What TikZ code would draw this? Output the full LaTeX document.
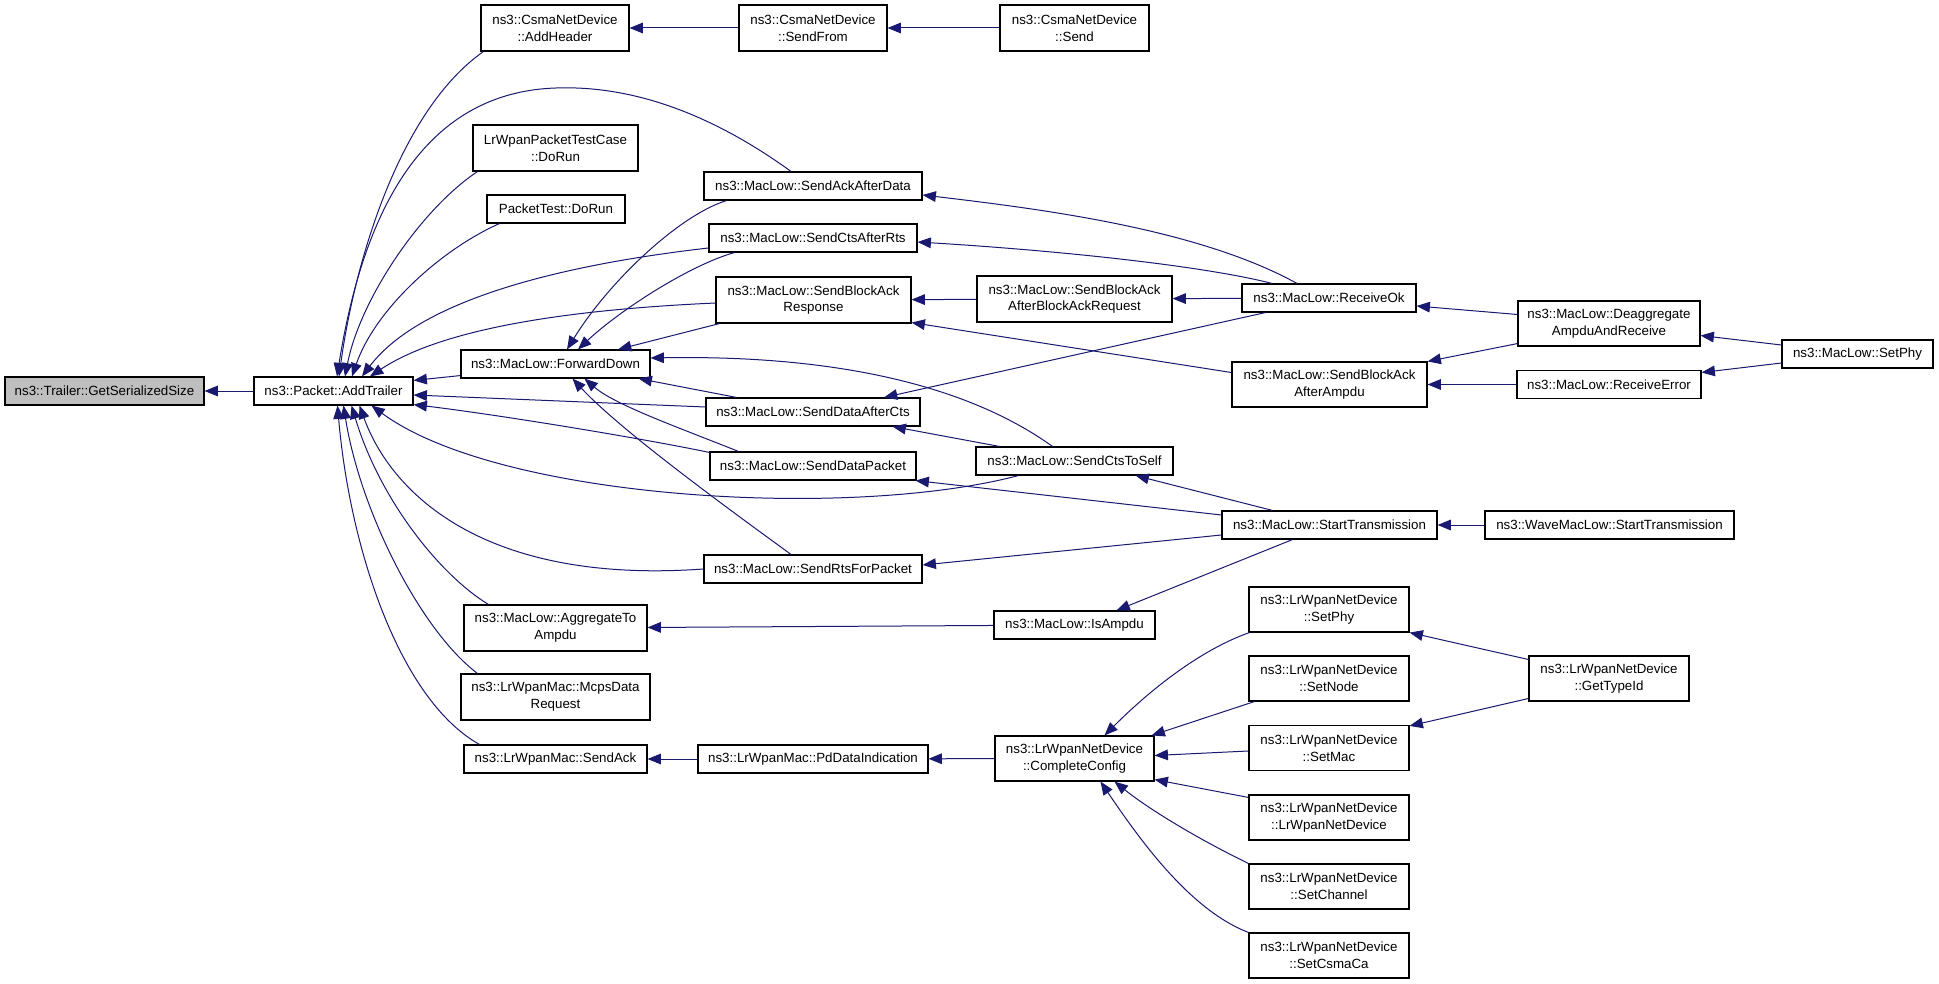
\documentclass[tikz,border=0pt]{standalone}
\usepackage{fontspec}
\setmainfont{Liberation Sans}
\usetikzlibrary{arrows.meta,calc}
\definecolor{edgec}{RGB}{25,25,112}
\definecolor{hilite}{RGB}{191,191,191}
\newcommand\nd[7][]{\node[box,#1,minimum width=#5*0.75pt,minimum height=#6*0.75pt] (#2) at (#3,#4) {#7};}
\begin{document}
\begin{tikzpicture}[x=0.75pt,y=-0.75pt,
  box/.style={draw=black,line width=0.85pt,fill=white,inner sep=0pt,align=center,font=\fontsize{10}{12.5}\selectfont},
  edge/.style={draw=edgec,line width=0.75pt,-{Triangle[length=10pt,width=8pt]}}]
\useasboundingbox (0,0) rectangle (1939,984);
\fill[white] (0,0) rectangle (1939,984);
% column 0/1
\nd[fill=hilite]{gss}{104.5}{391}{199}{28}{ns3::Trailer::GetSerializedSize}
\nd{addtrailer}{333.5}{391}{159}{28}{ns3::Packet::AddTrailer}
% column 2
\nd{addheader}{555}{28}{148}{46}{ns3::CsmaNetDevice\\::AddHeader}
\nd{lrtest}{555.5}{148}{165}{46}{LrWpanPacketTestCase\\::DoRun}
\nd{packettest}{556}{209}{138}{28}{PacketTest::DoRun}
\nd{forwarddown}{555.5}{364}{189}{28}{ns3::MacLow::ForwardDown}
\nd{aggregate}{555.5}{628}{183}{46}{ns3::MacLow::AggregateTo\\Ampdu}
\nd{mcps}{555.5}{697}{189}{46}{ns3::LrWpanMac::McpsData\\Request}
\nd{lrsendack}{555.5}{759}{183}{28}{ns3::LrWpanMac::SendAck}
% column 3
\nd{sendfrom}{813}{28}{148}{46}{ns3::CsmaNetDevice\\::SendFrom}
\nd{sackdata}{813}{186}{218}{28}{ns3::MacLow::SendAckAfterData}
\nd{sctsrts}{813}{238}{208}{28}{ns3::MacLow::SendCtsAfterRts}
\nd{sbaresp}{813.5}{300}{195}{46}{ns3::MacLow::SendBlockAck\\Response}
\nd{sdatacts}{813}{412}{214}{28}{ns3::MacLow::SendDataAfterCts}
\nd{sdatapkt}{813}{466}{206}{28}{ns3::MacLow::SendDataPacket}
\nd{srts}{813}{569}{218}{28}{ns3::MacLow::SendRtsForPacket}
\nd{pdind}{813}{759}{230}{28}{ns3::LrWpanMac::PdDataIndication}
% column 4
\nd{send}{1074.5}{28}{149}{46}{ns3::CsmaNetDevice\\::Send}
\nd{sbaabar}{1074.5}{299}{195}{46}{ns3::MacLow::SendBlockAck\\AfterBlockAckRequest}
\nd{sctsself}{1074.5}{461}{197}{28}{ns3::MacLow::SendCtsToSelf}
\nd{isampdu}{1074.5}{625}{161}{28}{ns3::MacLow::IsAmpdu}
\nd{complete}{1074.5}{758.5}{159}{45}{ns3::LrWpanNetDevice\\::CompleteConfig}
% column 5
\nd{receiveok}{1329}{298}{174}{28}{ns3::MacLow::ReceiveOk}
\nd{sbaaa}{1329.5}{384.5}{195}{45}{ns3::MacLow::SendBlockAck\\AfterAmpdu}
\nd{starttx}{1329.5}{525}{215}{28}{ns3::MacLow::StartTransmission}
\nd{lrsetphy}{1329}{609.5}{160}{45}{ns3::LrWpanNetDevice\\::SetPhy}
\nd{setnode}{1329}{678.5}{160}{45}{ns3::LrWpanNetDevice\\::SetNode}
\nd{setmac}{1329}{748}{160}{45}{ns3::LrWpanNetDevice\\::SetMac}
\nd{lrnd}{1329}{817.5}{160}{45}{ns3::LrWpanNetDevice\\::LrWpanNetDevice}
\nd{setchannel}{1329}{886.5}{160}{45}{ns3::LrWpanNetDevice\\::SetChannel}
\nd{setcsmaca}{1329}{955.5}{160}{45}{ns3::LrWpanNetDevice\\::SetCsmaCa}
% column 6
\nd{deagg}{1609}{323.5}{182}{45}{ns3::MacLow::Deaggregate\\AmpduAndReceive}
\nd{receiveerror}{1609}{384.5}{184}{28}{ns3::MacLow::ReceiveError}
\nd{wave}{1609.5}{525}{249}{28}{ns3::WaveMacLow::StartTransmission}
\nd{gettypeid}{1609}{678.5}{160}{45}{ns3::LrWpanNetDevice\\::GetTypeId}
% column 7
\nd{setphy}{1857.5}{354}{151}{28}{ns3::MacLow::SetPhy}
% ---- edges
\draw[edge] (addtrailer) -- (gss);
\draw[edge] (sendfrom) -- (addheader);
\draw[edge] (send) -- (sendfrom);
\draw[edge] ($(addheader.south west)+(3,0)$) .. controls (400,110) and (355,260) .. ($(addtrailer.north)+(5.5,0)$);
\draw[edge] ($(sackdata.north)+(-22,0)$) .. controls (720,120) and (640,85) .. (556,88) .. controls (430,92) and (365,200) .. ($(addtrailer.north)+(3.5,0)$);
\draw[edge] ($(lrtest.south west)+(5,0)$) .. controls (420,210) and (360,300) .. ($(addtrailer.north)+(11.5,0)$);
\draw[edge] ($(packettest.south west)+(13,0)$) .. controls (440,250) and (375,310) .. ($(addtrailer.north)+(18.5,0)$);
\draw[edge] ($(sctsrts.west)+(0,10)$) .. controls (560,265) and (420,300) .. ($(addtrailer.north)+(28.5,0)$);
\draw[edge] ($(sbaresp.west)+(0,3)$) .. controls (560,310) and (440,330) .. ($(addtrailer.north)+(36.5,0)$);
\draw[edge] ($(forwarddown.south west)+(0,-3)$) -- ($(addtrailer.north east)+(0,4)$);
\draw[edge] ($(sdatacts.west)+(0,-5)$) -- ($(addtrailer.east)+(0,4)$);
\draw[edge] ($(sdatapkt.north west)+(0,1)$) .. controls (640,438) and (500,415) .. ($(addtrailer.south east)+(0,-1)$);
\draw[edge] ($(sctsself.south west)+(43,0)$) .. controls (850,520) and (500,500) .. ($(addtrailer.south)+(38,0)$);
\draw[edge] (srts.west) .. controls (480,585) and (390,490) .. ($(addtrailer.south)+(26,0)$);
\draw[edge] ($(aggregate.north west)+(25,0)$) .. controls (440,575) and (380,500) .. ($(addtrailer.south)+(18,0)$);
\draw[edge] ($(mcps.north west)+(17,0)$) .. controls (420,630) and (360,510) .. ($(addtrailer.south)+(10,0)$);
\draw[edge] ($(lrsendack.north west)+(16,0)$) .. controls (400,700) and (350,550) .. ($(addtrailer.south)+(4,0)$);
% to ForwardDown
\draw[edge] ($(sackdata.south west)+(23,0)$) .. controls (680,215) and (610,280) .. ($(forwarddown.north)+(11.5,0)$);
\draw[edge] ($(sctsrts.south west)+(26,0)$) .. controls (690,265) and (620,310) .. ($(forwarddown.north)+(22.5,0)$);
\draw[edge] ($(sbaresp.south west)+(4,0)$) -- ($(forwarddown.north)+(62.5,0)$);
\draw[edge] ($(sctsself.north)+(-22,0)$) .. controls (960,380) and (820,355) .. ($(forwarddown.east)+(0,-6)$);
\draw[edge] ($(sdatacts.north west)+(31,0)$) -- ($(forwarddown.south east)+(-12,0)$);
\draw[edge] ($(sdatapkt.north west)+(29,0)$) .. controls (680,428) and (615,405) .. ($(forwarddown.south)+(29,0)$);
\draw[edge] ($(srts.north)+(-22,0)$) .. controls (730,510) and (620,430) .. ($(forwarddown.south)+(17,0)$);
% right side
\draw[edge] ($(receiveok.north)+(-32,0)$) .. controls (1200,230) and (1050,210) .. ($(sackdata.east)+(0,9)$);
\draw[edge] ($(receiveok.north)+(-57,0)$) .. controls (1200,265) and (1050,250) .. ($(sctsrts.east)+(0,4)$);
\draw[edge] (receiveok) -- (sbaabar);
\draw[edge] (sbaabar) -- (sbaresp);
\draw[edge] ($(receiveok.south west)+(24,0)$) -- ($(sdatacts.north)+(71,0)$);
\draw[edge] ($(sbaaa.west)+(0,-12)$) -- ($(sbaresp.south east)+(0,-1)$);
\draw[edge] ($(sctsself.north west)+(24,0)$) -- ($(sdatacts.south east)+(-28,0)$);
\draw[edge] ($(starttx.west)+(0,-10)$) -- ($(sdatapkt.south east)+(-1,0)$);
\draw[edge] ($(starttx.north)+(-57,0)$) -- ($(sctsself.south east)+(-38,0)$);
\draw[edge] ($(starttx.west)+(0,10)$) -- ($(srts.east)+(0,-4)$);
\draw[edge] ($(starttx.south)+(-37,0)$) -- ($(isampdu.north)+(42,0)$);
\draw[edge] (isampdu) -- (aggregate);
\draw[edge] (wave) -- (starttx);
\draw[edge] ($(deagg.west)+(0,-9)$) -- ($(receiveok.east)+(0,8)$);
\draw[edge] ($(deagg.south west)+(0,-3)$) -- (sbaaa.north east);
\draw[edge] (receiveerror) -- (sbaaa);
\draw[edge] ($(setphy.west)+(0,-9)$) -- ($(deagg.east)+(0,12)$);
\draw[edge] ($(setphy.west)+(0,9)$) -- ($(receiveerror.east)+(0,-12)$);
\draw[edge] (complete) -- (pdind);
\draw[edge] (pdind) -- (lrsendack);
\draw[edge] ($(lrsetphy.south west)+(1,0)$) .. controls (1200,650) and (1150,690) .. ($(complete.north)+(30,0)$);
\draw[edge] ($(setnode.south west)+(6,0)$) -- ($(complete.north east)+(-3,0)$);
\draw[edge] ($(setmac.west)+(0,3)$) -- ($(complete.east)+(0,-3)$);
\draw[edge] ($(lrnd.north west)+(0,3)$) -- ($(complete.south east)+(0,-2)$);
\draw[edge] (setchannel.north west) .. controls (1200,840) and (1150,810) .. ($(complete.south)+(40,0)$);
\draw[edge] (setcsmaca.north west) .. controls (1190,910) and (1140,840) .. ($(complete.south)+(26,0)$);
\draw[edge] ($(gettypeid.west)+(0,-19)$) -- (lrsetphy.south east);
\draw[edge] ($(gettypeid.west)+(0,20)$) -- ($(setmac.north east)+(0,1)$);
\end{tikzpicture}
\end{document}
